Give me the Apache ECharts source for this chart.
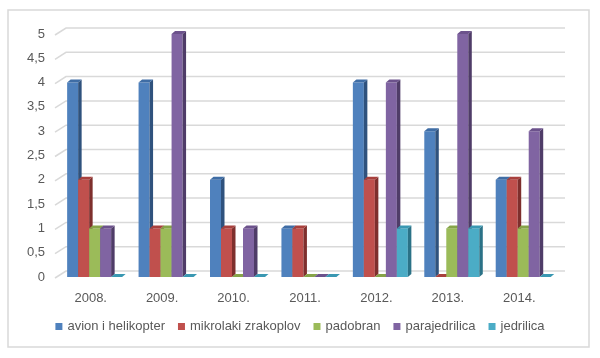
<!DOCTYPE html>
<html>
<head>
<meta charset="utf-8">
<script src="https://cdn.jsdelivr.net/npm/echarts@6/dist/echarts.min.js"></script>
<style>html,body{margin:0;padding:0;background:#fff;}#c{width:600px;height:358px;}</style>
</head>
<body>
<div id="c"></div>
<script>
var categories = ['2008.', '2009.', '2010.', '2011.', '2012.', '2013.', '2014.'];
var seriesNames = ['avion i helikopter', 'mikrolaki zrakoplov', 'padobran', 'parajedrilica', 'jedrilica'];
var avion = [4, 4, 2, 1, 4, 3, 2];
var mikrolaki = [2, 1, 1, 1, 2, 0, 2];
var padobran = [1, 1, 0, 0, 0, 1, 1];
var parajedrilica = [1, 5, 1, 0, 4, 5, 3];
var jedrilica = [0, 0, 0, 0, 1, 1, 0];
var yTicks = [0, 0.5, 1, 1.5, 2, 2.5, 3, 3.5, 4, 4.5, 5];

var values = [avion, mikrolaki, padobran, parajedrilica, jedrilica];
var colors = ['#4F81BD', '#C0504D', '#9BBB59', '#8064A2', '#4BACC6'];
var topColors = ['#3F6DA5', '#A8403D', '#86A448', '#6C528C', '#3A98B2'];
var sideColors = ['#2F527D', '#7E2F2D', '#637B33', '#4F3C68', '#2B7287'];

function barRender(si) {
  return function (params, api) {
    var c = api.value(0), v = api.value(1);
    var pt = api.coord([c, v]);
    var base = api.coord([c, 0]);
    var bw = api.size([1, 0])[0];
    var w = bw * 0.154;
    var x = pt[0] - bw * 0.33 + si * w;
    var d = 3.5, dy = 3;
    var top = pt[1], bot = base[1];
    var children = [];
    if (bot - top > 0.1) {
      children.push({type: 'rect', shape: {x: x, y: top, width: w, height: bot - top}, style: {fill: colors[si]}});
      children.push({type: 'polygon', shape: {points: [[x + w, top], [x + w + d, top - dy], [x + w + d, bot - dy], [x + w, bot]]}, style: {fill: sideColors[si]}});
    }
    children.push({type: 'polygon', shape: {points: [[x, top], [x + d, top - dy], [x + w + d, top - dy], [x + w, top]]}, style: {fill: topColors[si]}});
    return {type: 'group', children: children};
  };
}

var series = [{
  type: 'custom',
  name: '_grid',
  silent: true,
  z: 1,
  data: yTicks.map(function (t) { return [0, t]; }),
  encode: {x: 0, y: 1},
  renderItem: function (params, api) {
    var cs = params.coordSys;
    var y = api.coord([0, api.value(1)])[1];
    return {type: 'polyline', shape: {points: [[cs.x, y + 1], [cs.x + 11, y - 6], [cs.x + cs.width + 10, y - 6]]},
      style: {stroke: '#D9D9D9', lineWidth: 1.5, fill: null}};
  }
}];
seriesNames.forEach(function (n, si) {
  series.push({
    type: 'custom',
    name: n,
    z: 2,
    itemStyle: {color: colors[si]},
    data: values[si].map(function (v, i) { return [i, v]; }),
    encode: {x: 0, y: 1},
    renderItem: barRender(si)
  });
});

var chart = echarts.init(document.getElementById('c'));
chart.setOption({
  animation: false,
  backgroundColor: '#fff',
  textStyle: {fontFamily: 'Liberation Sans'},
  graphic: [{type: 'rect', shape: {x: 8, y: 10, width: 581, height: 337}, style: {fill: null, stroke: '#D9D9D9', lineWidth: 1.5}, z: 0}],
  grid: {left: 55, right: 45, top: 34, bottom: 81},
  legend: {
    data: seriesNames,
    bottom: 20,
    left: 'center',
    icon: 'rect',
    itemWidth: 7,
    itemHeight: 7,
    itemGap: 13,
    textStyle: {color: '#595959', fontSize: 13, fontFamily: 'Liberation Sans'}
  },
  xAxis: {
    type: 'category',
    data: categories,
    axisLine: {show: false},
    axisTick: {show: false},
    axisLabel: {color: '#595959', fontSize: 13, margin: 15}
  },
  yAxis: {
    type: 'value',
    min: 0, max: 5, interval: 0.5,
    splitLine: {show: false},
    axisLine: {show: false},
    axisTick: {show: false},
    axisLabel: {color: '#595959', fontSize: 13, margin: 10, padding: [6, 0, 0, 0],
      formatter: function (v) { return String(v).replace('.', ','); }}
  },
  series: series
});
</script>
</body>
</html>
